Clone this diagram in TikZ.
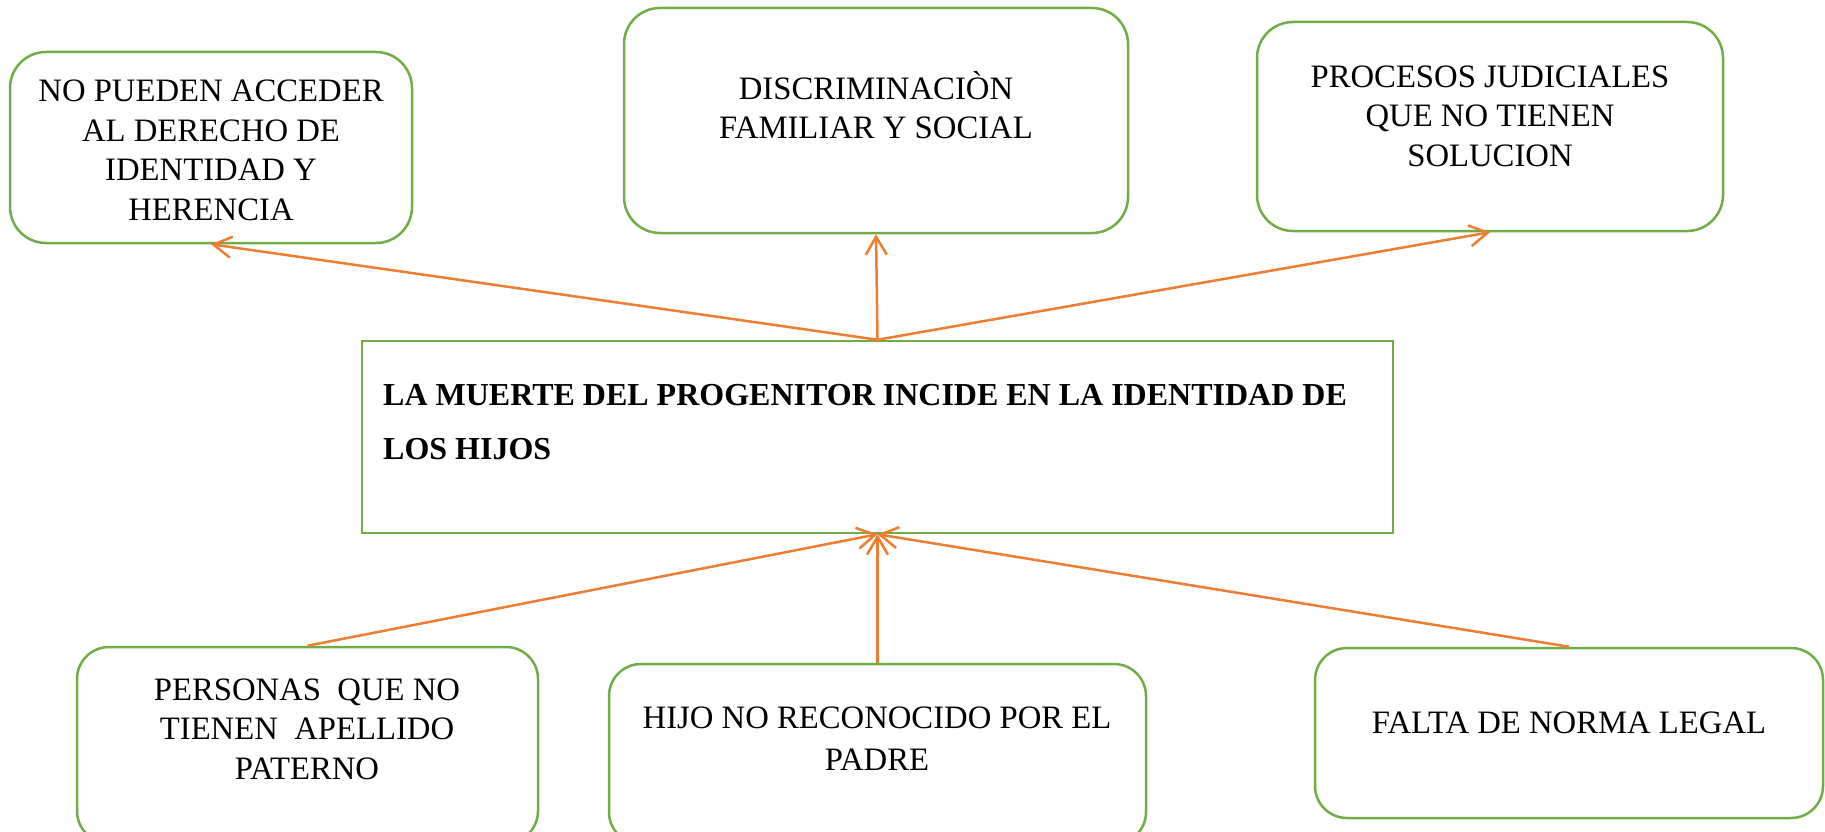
\documentclass[tikz,border=0pt]{standalone}
\usepackage{fontspec}
\setmainfont{Liberation Serif}
\usetikzlibrary{arrows.meta}
\definecolor{boxgreen}{HTML}{70AD47}
\definecolor{arrorange}{HTML}{ED7D31}
\begin{document}
\begin{tikzpicture}[x=1pt,y=-1pt,
  rbox/.style={draw=boxgreen, line width=2.5pt, rounded corners=36pt, inner sep=0pt},
  bbox/.style={draw=boxgreen, line width=2.5pt, rounded corners=32pt, inner sep=0pt},
  sbox/.style={draw=boxgreen, line width=2.5pt, inner sep=0pt},
  lbl/.style={font=\fontsize{32.7}{39.5}\selectfont, align=center, anchor=base, inner sep=0pt},
  arr/.style={draw=arrorange, line width=2.5pt, -{Straight Barb[length=18pt,width=21pt]}}]
\clip (0,0) rectangle (1825,832);
\fill[white] (0,0) rectangle (1825,832);
% boxes
\node[rbox, minimum width=402pt, minimum height=191pt] (tl) at (211,147.5) {};
\node[rbox, minimum width=504pt, minimum height=225pt] (tm) at (876,120.5) {};
\node[rbox, minimum width=466pt, minimum height=209pt] (tr) at (1490,126.5) {};
\node[sbox, minimum width=1031pt, minimum height=192pt] (c) at (877.5,437) {};
\node[bbox, minimum width=461pt, minimum height=196pt] (bl) at (307.5,745) {};
\node[bbox, minimum width=537pt, minimum height=180pt] (bm) at (877.5,754) {};
\node[bbox, minimum width=508pt, minimum height=170pt] (br) at (1569,733) {};
% texts (anchor base = baseline of last line)
\node[lbl] (tltext) at (211,220) {NO PUEDEN ACCEDER\\AL DERECHO DE\\IDENTIDAD Y\\HERENCIA};
\node[lbl] (tmtext) at (876,139) {DISCRIMINACIÒN\\FAMILIAR Y SOCIAL};
\node[lbl] (trtext) at (1490,166) {PROCESOS JUDICIALES\\QUE NO TIENEN\\SOLUCION};
\node[lbl, align=left, anchor=base west, font=\fontsize{32}{53.5}\selectfont\bfseries] (ctext) at (383,459) {LA MUERTE DEL PROGENITOR INCIDE EN LA IDENTIDAD DE\\LOS HIJOS};
\node[lbl] (bltext) at (307,779) {PERSONAS\ \ QUE NO\\TIENEN\ \ APELLIDO\\PATERNO};
\node[lbl, font=\fontsize{32.7}{42}\selectfont] (bmtext) at (877,770) {HIJO NO RECONOCIDO POR EL\\PADRE};
\node[lbl] (brtext) at (1569,733) {FALTA DE NORMA LEGAL};
% connectors
\draw[arr] (c.north) -- (tl.south);
\draw[arr] (c.north) -- (tm.south);
\draw[arr] (c.north) -- (tr.south);
\draw[arr] (bl.north) -- (c.south);
\draw[arr] (bm.north) -- (c.south);
\draw[arr] (br.north) -- (c.south);
\end{tikzpicture}
\end{document}
